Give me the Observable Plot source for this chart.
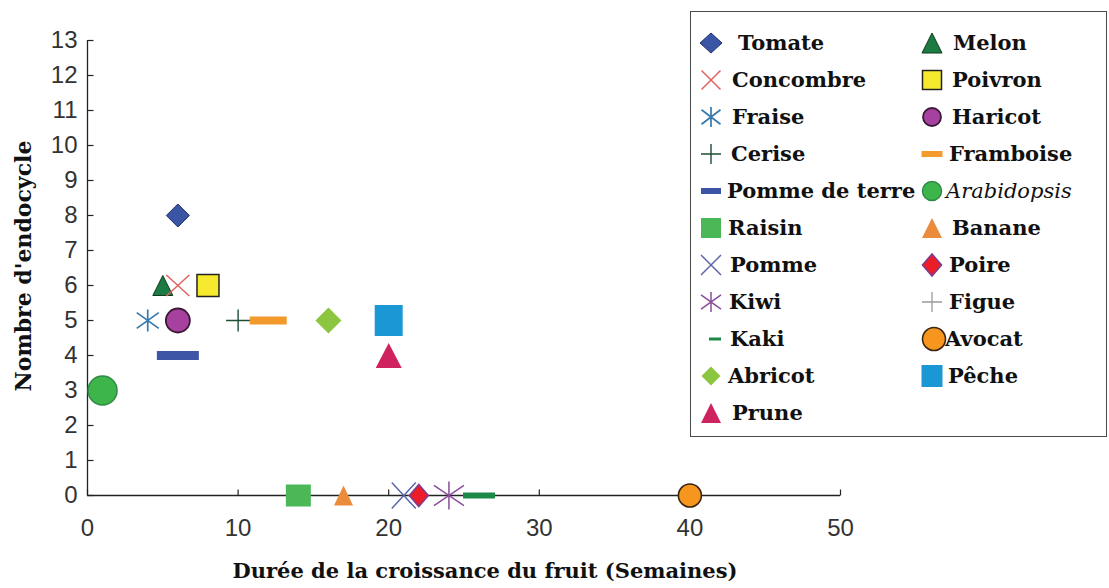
<!DOCTYPE html>
<html><head><meta charset="utf-8">
<script src="https://cdn.jsdelivr.net/npm/d3@7"></script>
<script src="https://cdn.jsdelivr.net/npm/@observablehq/plot@0.6"></script>
<style>
html,body{margin:0;padding:0;background:#fff;}
#wrap{position:relative;width:1109px;height:588px;overflow:hidden;}
#legend{position:absolute;left:690px;top:11px;width:415px;height:424px;border:1.5px solid #4a4a4a;background:#fff;}
#legend svg, #wrap > svg{display:block;}
</style></head><body><div id="wrap"><div id="legend"></div></div>
<script>
// ---- data ----
const fruits    = ["Tomate","Concombre","Fraise","Cerise","Pomme de terre","Raisin","Pomme","Kiwi","Kaki","Abricot","Prune","Melon","Poivron","Haricot","Framboise","Arabidopsis","Banane","Poire","Figue","Avocat","Pêche"];
const duree     = [6, 6, 4, 10, 6, 14, 21, 24, 26, 16, 20, 5, 8, 6, 12, 1, 17, 22, null, 40, 20];
const endocycle = [8, 6, 5, 5, 4, 0, 0, 0, 0, 5, 4, 6, 6, 5, 5, 3, 0, 0, null, 0, 5];
const xTicks = [0, 10, 20, 30, 40, 50];
const yTicks = [0, 1, 2, 3, 4, 5, 6, 7, 8, 9, 10, 11, 12, 13];
const legendCol1 = ["Tomate","Concombre","Fraise","Cerise","Pomme de terre","Raisin","Pomme","Kiwi","Kaki","Abricot","Prune"];
const legendCol2 = ["Melon","Poivron","Haricot","Framboise","Arabidopsis","Banane","Poire","Figue","Avocat","Pêche"];
const xLabel = "Durée de la croissance du fruit (Semaines)";
const yLabel = "Nombre d'endocycle";

// ---- symbol shapes (pixel sizes) ----
const S = {
  diamond: (w, h) => ({draw(c){c.moveTo(0,-h);c.lineTo(w,0);c.lineTo(0,h);c.lineTo(-w,0);c.closePath();}}),
  rect: (w, h) => ({draw(c){c.rect(-w/2,-h/2,w,h);}}),
  tri: (w, h) => ({draw(c){c.moveTo(0,-h/2);c.lineTo(w/2,h/2);c.lineTo(-w/2,h/2);c.closePath();}}),
  circle: (r) => ({draw(c){c.moveTo(r,0);c.arc(0,0,r,0,2*Math.PI);c.closePath();}}),
  times: (w, h) => ({draw(c){c.moveTo(-w,-h);c.lineTo(w,h);c.moveTo(-w,h);c.lineTo(w,-h);}}),
  plus: (w, h) => ({draw(c){c.moveTo(-w,0);c.lineTo(w,0);c.moveTo(0,-h);c.lineTo(0,h);}}),
  aster: (w, h) => ({draw(c){c.moveTo(0,-h);c.lineTo(0,h);c.moveTo(-w,-h*0.72);c.lineTo(w,h*0.72);c.moveTo(-w,h*0.72);c.lineTo(w,-h*0.72);}}),
  hTick: (l) => ({draw(c){c.moveTo(0,0);c.lineTo(l,0);}}),
  vTick: (l) => ({draw(c){c.moveTo(0,0);c.lineTo(0,-l);}})
};

const look = {
  "Tomate":        {fill:"#3b55a5", stroke:"#1f2f6b", sw:1,   main:S.diamond(11.5,11.5), key:S.diamond(11,10), kdx:27},
  "Concombre":     {fill:"none", stroke:"#e0605c", sw:1.5,    main:S.times(11.5,10.5),  key:S.times(9.5,9.5), kdx:21},
  "Fraise":        {fill:"none", stroke:"#3679ad", sw:1.7,    main:S.aster(11,11),      key:S.aster(9.5,10), kdx:21},
  "Cerise":        {fill:"none", stroke:"#1e4d35", sw:1.4,    main:S.plus(12,11),       key:S.plus(10,10), kdx:20},
  "Pomme de terre":{fill:"#3c55a5", stroke:"none", sw:0,      main:S.rect(42,9),        key:S.rect(20,6), kdx:16},
  "Raisin":        {fill:"#4bb757", stroke:"none", sw:0,      main:S.rect(25,22),       key:S.rect(20,20), kdx:17},
  "Pomme":         {fill:"none", stroke:"#5b67a9", sw:1.5,    main:S.times(12,13),      key:S.times(10,10), kdx:19},
  "Kiwi":          {fill:"none", stroke:"#8b4d9d", sw:1.5,    main:S.aster(15,14),      key:S.aster(10,10), kdx:18},
  "Kaki":          {fill:"#1b8a48", stroke:"none", sw:0,      main:S.rect(32,6),        key:S.rect(12,3), kdx:19, kox:4},
  "Abricot":       {fill:"#8cc540", stroke:"none", sw:0,      main:S.diamond(13,13),    key:S.diamond(9.5,9.5), kdx:17},
  "Prune":         {fill:"#cf2360", stroke:"none", sw:0,      main:S.tri(26,25),        key:S.tri(20,20), kdx:21},
  "Melon":         {fill:"#1c7a43", stroke:"#0c3a1e", sw:1,   main:S.tri(20,20),        key:S.tri(20,20), kdx:21},
  "Poivron":       {fill:"#f6e92e", stroke:"#222", sw:1.5,    main:S.rect(22,22),       key:S.rect(19,19), kdx:20},
  "Haricot":       {fill:"#a7419f", stroke:"#3a1936", sw:1.8, main:S.circle(12),        key:S.circle(9), kdx:20},
  "Framboise":     {fill:"#f39a2d", stroke:"none", sw:0,      main:S.rect(37,8),        key:S.rect(21,6), kdx:17},
  "Arabidopsis":   {fill:"#3db54b", stroke:"#2e8a46", sw:1.5, main:S.circle(14.5),      key:S.circle(9.5), kdx:14, italic:true},
  "Banane":        {fill:"#ea8c3b", stroke:"none", sw:0,      main:S.tri(19,20),        key:S.tri(20,20), kdx:20},
  "Poire":         {fill:"#ec1d26", stroke:"#7c3d8f", sw:1.6, main:S.diamond(9.5,11),   key:S.diamond(9.5,11), kdx:17},
  "Figue":         {fill:"none", stroke:"#9a9a9a", sw:1.3,    main:null,                key:S.plus(10,10), kdx:17},
  "Avocat":        {fill:"#f7961f", stroke:"#3a2610", sw:1.6, main:S.circle(11.5),      key:S.circle(11.5), kdx:13, kox:2},
  "Pêche":         {fill:"#1b97d5", stroke:"none", sw:0,      main:S.rect(28,31),       key:S.rect(21,22), kdx:16}
};

const drawOrder = ["Melon","Concombre","Poivron","Tomate","Fraise","Haricot","Cerise","Framboise","Abricot","Pêche","Prune","Pomme de terre","Arabidopsis","Raisin","Banane","Pomme","Poire","Kiwi","Kaki","Avocat","Figue"];

const serif = "'DejaVu Serif', serif";

const pointMarks = drawOrder.map(name => {
  const i = fruits.indexOf(name);
  const L = look[name];
  if (duree[i] == null || !L.main) return null;
  return Plot.dot([i], {
    x: j => duree[j], y: j => endocycle[j],
    symbol: L.main, r: 5,
    fill: L.fill, stroke: L.stroke, strokeWidth: L.sw
  });
}).filter(Boolean);

const chart = Plot.plot({
  width: 1109, height: 588,
  marginLeft: 87, marginRight: 269, marginTop: 40, marginBottom: 93,
  x: {domain: [0, 50]},
  y: {domain: [0, 13]},
  style: {background: "#fff", fontFamily: "'Liberation Sans', Arial, sans-serif", fontSize: "24px", color: "#333"},
  marks: [
    Plot.ruleX([0], {stroke: "#222", strokeWidth: 1.3}),
    Plot.ruleY([0], {stroke: "#222", strokeWidth: 1.3}),
    Plot.dot(yTicks, {y: d => d, frameAnchor: "left", symbol: S.hTick(6), r: 3, fill: "none", stroke: "#222", strokeWidth: 1.2}),
    Plot.dot(xTicks, {x: d => d, frameAnchor: "bottom", symbol: S.vTick(6), r: 3, fill: "none", stroke: "#222", strokeWidth: 1.2}),
    Plot.axisY({ticks: yTicks, tickSize: 0, tickPadding: 10, label: null, tickFormat: d => String(d), fill: "#333"}),
    Plot.axisX({ticks: xTicks, tickSize: 0, tickPadding: 23, label: null, tickFormat: d => String(d), fill: "#333"}),
    ...pointMarks,
    Plot.text([xLabel], {text: d => d, frameAnchor: "bottom", dy: 82, dx: 21, fontFamily: serif, fontWeight: "bold", fontSize: 21, fill: "#111"}),
    Plot.text([yLabel], {text: d => d, frameAnchor: "left", textAnchor: "middle", rotate: -90, dx: -64, dy: -2, fontFamily: serif, fontWeight: "bold", fontSize: 22, fill: "#111"})
  ]
});
document.getElementById("wrap").prepend(chart);

// ---- legend ----
const legendMarks = [];
[legendCol1, legendCol2].forEach((col, c) => {
  col.forEach((name, row) => {
    const L = look[name];
    legendMarks.push(Plot.dot([row], {x: () => c, y: r => r, symbol: L.key, r: 5, fill: L.fill, stroke: L.stroke, strokeWidth: L.sw, dx: L.kox || 0}));
    legendMarks.push(Plot.text([row], {x: () => c, y: r => r, text: () => name, dx: L.kdx, textAnchor: "start",
      fontFamily: serif, fontWeight: L.italic ? "normal" : "bold", fontStyle: L.italic ? "italic" : "normal", fontSize: 21, fill: "#111"}));
  });
});
const legend = Plot.plot({
  width: 415, height: 424, margin: 0,
  x: {domain: [0, 1], range: [19.5, 240.5], axis: null},
  y: {domain: [0, 10], range: [30.5, 400.5], axis: null},
  style: {background: "#fff"},
  marks: legendMarks
});
document.getElementById("legend").appendChild(legend);
</script>
</body></html>
